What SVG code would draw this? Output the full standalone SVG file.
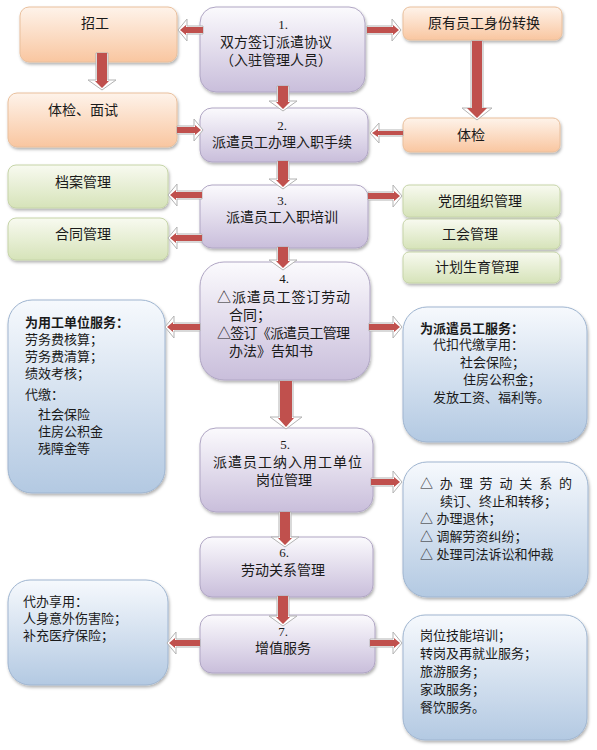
<svg xmlns="http://www.w3.org/2000/svg" width="597" height="750" viewBox="0 0 597 750">
<defs>
<linearGradient id="gp" x1="0" y1="0" x2="0" y2="1"><stop offset="0" stop-color="#fbfafd"/><stop offset="1" stop-color="#c9bedb"/></linearGradient>
<linearGradient id="go" x1="0" y1="0" x2="0" y2="1"><stop offset="0" stop-color="#fef3ea"/><stop offset="1" stop-color="#f9c6a0"/></linearGradient>
<linearGradient id="gg" x1="0" y1="0" x2="0" y2="1"><stop offset="0" stop-color="#f8faf0"/><stop offset="1" stop-color="#d6e3b9"/></linearGradient>
<linearGradient id="gb" x1="0" y1="0" x2="0" y2="1"><stop offset="0" stop-color="#f6f9fd"/><stop offset="1" stop-color="#b3c9e2"/></linearGradient>
<filter id="sh" x="-10%" y="-10%" width="120%" height="130%"><feDropShadow dx="1" dy="2" stdDeviation="1.5" flood-color="#000" flood-opacity="0.3"/></filter>
<style>
.p{fill:url(#gp);stroke:#b0a6c4;stroke-width:1;filter:url(#sh)}
.o{fill:url(#go);stroke:#e9bf9c;stroke-width:1;filter:url(#sh)}
.g{fill:url(#gg);stroke:#c6d4a8;stroke-width:1;filter:url(#sh)}
.b{fill:url(#gb);stroke:#9fb5d0;stroke-width:1;filter:url(#sh)}
text{font-family:"Liberation Sans","Noto Sans CJK SC",sans-serif;fill:#1a1a1a;font-size:14px}
.c{text-anchor:middle}
.s{font-size:13px}
.bd{font-weight:bold}
.n{font-family:"Liberation Serif","Noto Sans CJK SC",serif;font-size:13px}
.aw{fill:#ffffff;stroke:#b3b3b3;stroke-width:1}
.ar{fill:#c0504d}
</style>
</defs>

<g id="node1"><rect class="p" x="200" y="7" width="165" height="85" rx="16"/>
<text class="c n" x="283" y="29">1.</text>
<text class="c" x="276" y="47">双方签订派遣协议</text>
<text class="c" x="276" y="65">（入驻管理人员）</text></g>

<g id="node2"><rect class="p" x="200" y="108" width="168" height="54" rx="12"/>
<text class="c n" x="282" y="130">2.</text>
<text class="c" x="282" y="147">派遣员工办理入职手续</text></g>

<g id="node3"><rect class="p" x="200" y="185" width="168" height="63" rx="12"/>
<text class="c n" x="282" y="205">3.</text>
<text class="c" x="282" y="222">派遣员工入职培训</text></g>

<g id="node4"><rect class="p" x="200" y="262" width="170" height="118" rx="24"/>
<text class="c n" x="284" y="283">4.</text>
<text x="217" y="302" textLength="133" lengthAdjust="spacing">△派遣员工签订劳动</text>
<text x="229" y="320">合同；</text>
<text x="217" y="338" textLength="133" lengthAdjust="spacing">△签订《派遣员工管理</text>
<text x="229" y="356">办法》告知书</text></g>

<g id="node5"><rect class="p" x="200" y="428" width="173" height="84" rx="16"/>
<text class="c n" x="285" y="449">5.</text>
<text x="213" y="467" textLength="149" lengthAdjust="spacing">派遣员工纳入用工单位</text>
<text class="c" x="284" y="485">岗位管理</text></g>

<g id="node6"><rect class="p" x="200" y="537" width="173" height="60" rx="12"/>
<text class="c n" x="284" y="557">6.</text>
<text class="c" x="283" y="575">劳动关系管理</text></g>

<g id="node7"><rect class="p" x="200" y="615" width="175" height="58" rx="12"/>
<text class="c n" x="283" y="636">7.</text>
<text class="c" x="283" y="653">增值服务</text></g>

<g id="zhaogong"><rect class="o" x="20" y="7" width="157" height="55" rx="9"/>
<text class="c" x="95" y="28">招工</text></g>

<g id="tijian-mianshi"><rect class="o" x="8" y="93" width="169" height="54" rx="9"/>
<text class="c" x="83" y="115">体检、面试</text></g>

<g id="yuanyou"><rect class="o" x="403" y="7" width="159" height="33" rx="7"/>
<text class="c" x="484" y="28">原有员工身份转换</text></g>

<g id="tijian"><rect class="o" x="403" y="118" width="157" height="34" rx="7"/>
<text class="c" x="471" y="140">体检</text></g>

<g id="dangan"><rect class="g" x="8" y="165" width="160" height="43" rx="8"/>
<text class="c" x="83" y="187">档案管理</text></g>

<g id="hetong"><rect class="g" x="8" y="218" width="160" height="42" rx="8"/>
<text class="c" x="83" y="239">合同管理</text></g>

<g id="dangtuan"><rect class="g" x="403" y="185" width="157" height="32" rx="6"/>
<text class="c" x="480" y="206">党团组织管理</text></g>

<g id="gonghui"><rect class="g" x="403" y="219" width="157" height="30" rx="6"/>
<text class="c" x="470" y="239">工会管理</text></g>

<g id="jihua"><rect class="g" x="403" y="252" width="157" height="31" rx="6"/>
<text class="c" x="477" y="272">计划生育管理</text></g>

<g id="yonggong"><rect class="b" x="8" y="300" width="157" height="193" rx="24"/>
<text class="s bd" x="25" y="327">为用工单位服务：</text>
<text class="s" x="25" y="344">劳务费核算；</text>
<text class="s" x="25" y="361">劳务费清算；</text>
<text class="s" x="25" y="378">绩效考核；</text>
<text class="s" x="25" y="399">代缴：</text>
<text class="s" x="38" y="419">社会保险</text>
<text class="s" x="38" y="436">住房公积金</text>
<text class="s" x="38" y="453">残障金等</text></g>

<g id="paiqian"><rect class="b" x="403" y="307" width="184" height="135" rx="24"/>
<text class="s bd" x="420" y="333">为派遣员工服务：</text>
<text class="s" x="433" y="349">代扣代缴享用：</text>
<text class="s" x="460" y="367">社会保险；</text>
<text class="s" x="463" y="384">住房公积金；</text>
<text class="s" x="433" y="402">发放工资、福利等。</text></g>

<g id="laodong"><rect class="b" x="403" y="462" width="185" height="135" rx="24"/>
<text class="s" x="420" y="488" textLength="152" lengthAdjust="spacing">△ 办 理 劳 动 关 系 的</text>
<text class="s" x="440" y="506">续订、终止和转移；</text>
<text class="s" x="420" y="523">△ 办理退休；</text>
<text class="s" x="420" y="541">△ 调解劳资纠纷；</text>
<text class="s" x="420" y="559">△ 处理司法诉讼和仲裁</text></g>

<g id="daiban"><rect class="b" x="8" y="580" width="160" height="105" rx="22"/>
<text class="s" x="23" y="606">代办享用：</text>
<text class="s" x="23" y="623">人身意外伤害险；</text>
<text class="s" x="23" y="640">补充医疗保险；</text></g>

<g id="zengzhi"><rect class="b" x="403" y="615" width="184" height="125" rx="22"/>
<text class="s" x="420" y="640">岗位技能培训；</text>
<text class="s" x="420" y="658">转岗及再就业服务；</text>
<text class="s" x="420" y="676">旅游服务；</text>
<text class="s" x="420" y="694">家政服务；</text>
<text class="s" x="420" y="712">餐饮服务。</text></g>

<g id="connectors">
<g transform="translate(203,30) rotate(180)"><polygon class="aw" points="0,-4 16,-4 16,-11 25,0 16,11 16,4 0,4"/><polygon class="ar" points="0,-3 17,-3 17,-5 23,0 17,5 17,3 0,3"/></g>
<g transform="translate(367,30)"><polygon class="aw" points="0,-4 25,-4 25,-11 34,0 25,11 25,4 0,4"/><polygon class="ar" points="0,-3 26,-3 26,-5 32,0 26,5 26,3 0,3"/></g>
<g transform="translate(177,130)"><polygon class="aw" points="0,-4 17,-4 17,-11 26,0 17,11 17,4 0,4"/><polygon class="ar" points="0,-3 18,-3 18,-5 24,0 18,5 18,3 0,3"/></g>
<g transform="translate(403,133) rotate(180)"><polygon class="aw" points="0,-3 24,-3 24,-10 33,0 24,10 24,3 0,3"/><polygon class="ar" points="0,-2 25,-2 25,-4 31,0 25,4 25,2 0,2"/></g>
<g transform="translate(202,195) rotate(180)"><polygon class="aw" points="0,-4 25,-4 25,-11 34,0 25,11 25,4 0,4"/><polygon class="ar" points="0,-3 26,-3 26,-5 32,0 26,5 26,3 0,3"/></g>
<g transform="translate(202,238) rotate(180)"><polygon class="aw" points="0,-4 25,-4 25,-11 34,0 25,11 25,4 0,4"/><polygon class="ar" points="0,-3 26,-3 26,-5 32,0 26,5 26,3 0,3"/></g>
<g transform="translate(368,196)"><polygon class="aw" points="0,-4 25,-4 25,-11 34,0 25,11 25,4 0,4"/><polygon class="ar" points="0,-3 26,-3 26,-5 32,0 26,5 26,3 0,3"/></g>
<g transform="translate(200,327) rotate(180)"><polygon class="aw" points="0,-4 26,-4 26,-11 35,0 26,11 26,4 0,4"/><polygon class="ar" points="0,-3 27,-3 27,-5 33,0 27,5 27,3 0,3"/></g>
<g transform="translate(369,327)"><polygon class="aw" points="0,-4 24,-4 24,-11 33,0 24,11 24,4 0,4"/><polygon class="ar" points="0,-3 25,-3 25,-5 31,0 25,5 25,3 0,3"/></g>
<g transform="translate(371,482)"><polygon class="aw" points="0,-4 22,-4 22,-11 31,0 22,11 22,4 0,4"/><polygon class="ar" points="0,-3 23,-3 23,-5 29,0 23,5 23,3 0,3"/></g>
<g transform="translate(200,643) rotate(180)"><polygon class="aw" points="0,-4 24,-4 24,-11 33,0 24,11 24,4 0,4"/><polygon class="ar" points="0,-3 25,-3 25,-5 31,0 25,5 25,3 0,3"/></g>
<g transform="translate(370,643)"><polygon class="aw" points="0,-4 23,-4 23,-11 32,0 23,11 23,4 0,4"/><polygon class="ar" points="0,-3 24,-3 24,-5 30,0 24,5 24,3 0,3"/></g>
<g transform="translate(102,53) rotate(90)"><polygon class="aw" points="0,-6 27,-6 27,-14 37,0 27,14 27,6 0,6"/><polygon class="ar" points="0,-5 28,-5 28,-7 35,0 28,7 28,5 0,5"/></g>
<g transform="translate(283,86) rotate(90)"><polygon class="aw" points="0,-6 15,-6 15,-14 25,0 15,14 15,6 0,6"/><polygon class="ar" points="0,-5 16,-5 16,-7 23,0 16,7 16,5 0,5"/></g>
<g transform="translate(477,41) rotate(90)"><polygon class="aw" points="0,-6 67,-6 67,-15 79,0 67,15 67,6 0,6"/><polygon class="ar" points="0,-5 67,-5 67,-10 77,0 67,10 67,5 0,5"/></g>
<g transform="translate(283,161) rotate(90)"><polygon class="aw" points="0,-6 18,-6 18,-14 28,0 18,14 18,6 0,6"/><polygon class="ar" points="0,-5 19,-5 19,-7 26,0 19,7 19,5 0,5"/></g>
<g transform="translate(283,247) rotate(90)"><polygon class="aw" points="0,-6 13,-6 13,-14 23,0 13,14 13,6 0,6"/><polygon class="ar" points="0,-5 14,-5 14,-7 21,0 14,7 14,5 0,5"/></g>
<g transform="translate(286,381) rotate(90)"><polygon class="aw" points="0,-7 36,-7 36,-16 48,0 36,16 36,7 0,7"/><polygon class="ar" points="0,-6 37,-6 37,-8 46,0 37,8 37,6 0,6"/></g>
<g transform="translate(285,512) rotate(90)"><polygon class="aw" points="0,-6 25,-6 25,-14 35,0 25,14 25,6 0,6"/><polygon class="ar" points="0,-5 26,-5 26,-7 33,0 26,7 26,5 0,5"/></g>
<g transform="translate(283,596) rotate(90)"><polygon class="aw" points="0,-6 20,-6 20,-14 30,0 20,14 20,6 0,6"/><polygon class="ar" points="0,-5 21,-5 21,-7 28,0 21,7 21,5 0,5"/></g>
</g>
</svg>
